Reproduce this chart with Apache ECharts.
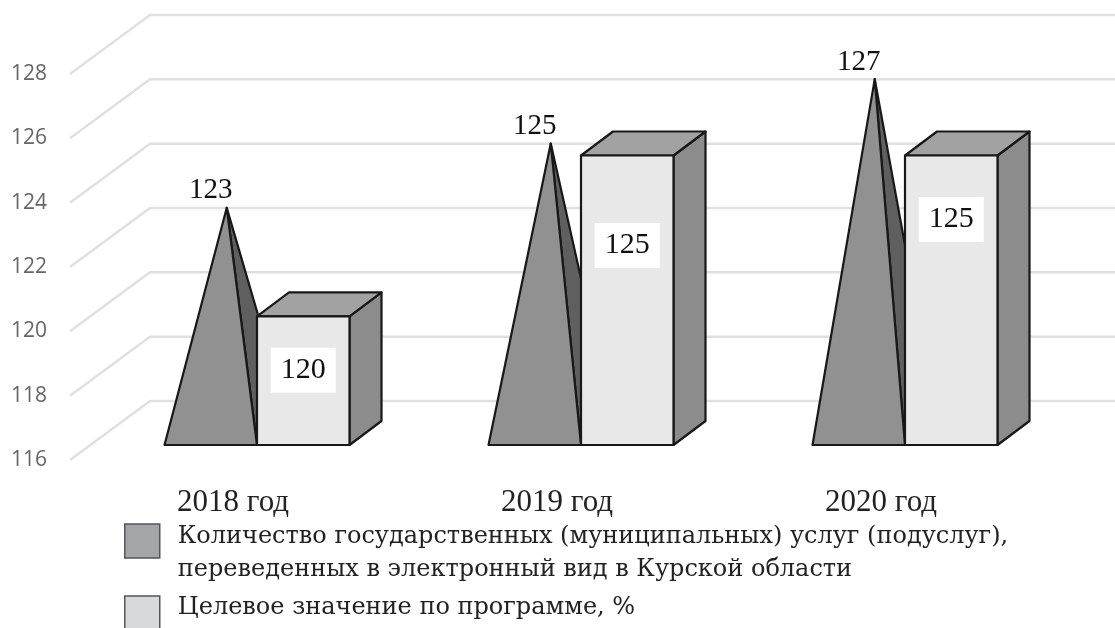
<!DOCTYPE html>
<html>
<head>
<meta charset="utf-8">
<style>html,body{margin:0;padding:0;background:#fff}#c{width:1115px;height:628px}</style>
<script src="https://cdn.jsdelivr.net/npm/echarts@6/dist/echarts.min.js"></script>
</head>
<body>
<div id="c"></div>
<script>
const categories = ['2018 год', '2019 год', '2020 год'];
const serviceCounts = [123, 125, 127];
const targetValues = [120, 125, 125];
const yTicks = [116, 118, 120, 122, 124, 126, 128];
const serviceName = 'Количество государственных (муниципальных) услуг (подуслуг),\nпереведенных в электронный вид в Курской области';
const targetName = 'Целевое значение по программе, %';

// drawing constants (3D projection of the picture)
const SERIF = '"Liberation Serif", serif';
const BAR_W = 92.5, PAIR_SHIFT = 24, DX = 32, DY = 24, FLOOR_UP = 15;
const WALL_DX = 80, WALL_DY = 59;
const labelDrops = [54, 90, 64];
const EDGE = '#181818';

function poly(points, fill) {
  return { type: 'polygon', shape: { points }, style: { fill, stroke: EDGE, lineWidth: 2.2, lineJoin: 'round' } };
}

function renderWall(params, api) {
  const p = api.coord([0, api.value(1)]);
  const left = params.coordSys.x - 1;
  return {
    type: 'polyline',
    shape: { points: [[left, p[1]], [left + WALL_DX, p[1] - WALL_DY], [api.getWidth(), p[1] - WALL_DY]] },
    style: { fill: 'none', stroke: '#e0e0e0', lineWidth: 2.5 }
  };
}

function renderPyramid(params, api) {
  const c = api.coord([api.value(0), api.value(1)]);
  const b = api.coord([api.value(0), yTicks[0]]);
  const xr = c[0] + PAIR_SHIFT, xl = xr - BAR_W;
  const base = b[1] - FLOOR_UP;
  const apex = [xl + BAR_W / 2 + DX / 2, c[1] - FLOOR_UP - DY / 2];
  return {
    type: 'group',
    children: [
      poly([[xr, base], [xr + DX, base - DY], apex], '#5f5f5f'),
      poly([[xl, base], [xr, base], apex], '#919191'),
      { type: 'text', style: { x: apex[0] - 16, y: apex[1] - 17, text: String(api.value(1)), font: '29px ' + SERIF, fill: '#111', align: 'center', verticalAlign: 'middle' } }
    ]
  };
}

function renderBox(params, api) {
  const c = api.coord([api.value(0), api.value(1)]);
  const b = api.coord([api.value(0), yTicks[0]]);
  const xl = c[0] + PAIR_SHIFT, xr = xl + BAR_W;
  const base = b[1] - FLOOR_UP, top = c[1] - FLOOR_UP;
  return {
    type: 'group',
    children: [
      poly([[xr, base], [xr + DX, base - DY], [xr + DX, top - DY], [xr, top]], '#8c8c8c'),
      poly([[xl, top], [xr, top], [xr + DX, top - DY], [xl + DX, top - DY]], '#a2a2a2'),
      poly([[xl, base], [xr, base], [xr, top], [xl, top]], '#e8e8e8'),
      { type: 'text', style: { x: (xl + xr) / 2, y: top + labelDrops[params.dataIndex], text: String(api.value(1)), font: '30px ' + SERIF, lineHeight: 33, fill: '#111', align: 'center', verticalAlign: 'middle', backgroundColor: '#fff', padding: [6, 10] } }
    ]
  };
}

function legendStyle() {
  return {
    padding: [0, 0, 0, 13],
    rich: {
      t: { fontFamily: '"DejaVu Serif", serif', fontSize: 24, color: '#222', lineHeight: 33, height: 33 },
      a: { fontSize: 1, lineHeight: 25, height: 25 },
      b: { fontSize: 1, lineHeight: 10, height: 10 }
    }
  };
}
const tagLines = s => s.split('\n').map(l => '{t|' + l + '}').join('\n');

const chart = echarts.init(document.getElementById('c'), null, { renderer: 'canvas' });
chart.setOption({
  animation: false,
  backgroundColor: '#fff',
  grid: { left: 71, top: 74, width: 972, height: 386 },
  xAxis: {
    type: 'category', data: categories,
    axisLine: { show: false }, axisTick: { show: false }, splitLine: { show: false },
    axisLabel: { fontFamily: SERIF, fontSize: 31, color: '#222', margin: 27 }
  },
  yAxis: {
    type: 'value', min: 116, max: 128, interval: 2,
    axisLine: { show: false }, axisTick: { show: false }, splitLine: { show: false },
    axisLabel: { fontFamily: '"Open Sans", sans-serif', fontSize: 21, color: '#666', margin: 24 }
  },
  legend: [
    { data: [{ name: serviceName, icon: 'rect', itemStyle: { color: '#a3a5a8', borderColor: '#555', borderWidth: 1.5 } }],
      orient: 'vertical', left: 124, top: 495.5, padding: 0, itemWidth: 35, itemHeight: 34, itemGap: 0, selectedMode: false,
      formatter: n => '{a|}\n' + tagLines(n), textStyle: legendStyle() },
    { data: [{ name: targetName, icon: 'rect', itemStyle: { color: '#d8d9da', borderColor: '#555', borderWidth: 1.5 } }],
      orient: 'vertical', left: 124, top: 591.5, padding: 0, itemWidth: 35, itemHeight: 34, itemGap: 0, selectedMode: false,
      formatter: n => tagLines(n) + '\n{b|}', textStyle: legendStyle() }
  ],
  series: [
    { type: 'custom', name: 'grid', renderItem: renderWall, silent: true, z: 1,
      data: yTicks.map(v => [0, v]), encode: { x: 0, y: 1 } },
    { type: 'custom', name: serviceName, renderItem: renderPyramid, z: 2, itemStyle: { color: '#a3a5a8' },
      data: serviceCounts.map((v, i) => [i, v]), encode: { x: 0, y: 1 } },
    { type: 'custom', name: targetName, renderItem: renderBox, z: 3, itemStyle: { color: '#d8d9da' },
      data: targetValues.map((v, i) => [i, v]), encode: { x: 0, y: 1 } }
  ]
});
</script>
</body>
</html>
